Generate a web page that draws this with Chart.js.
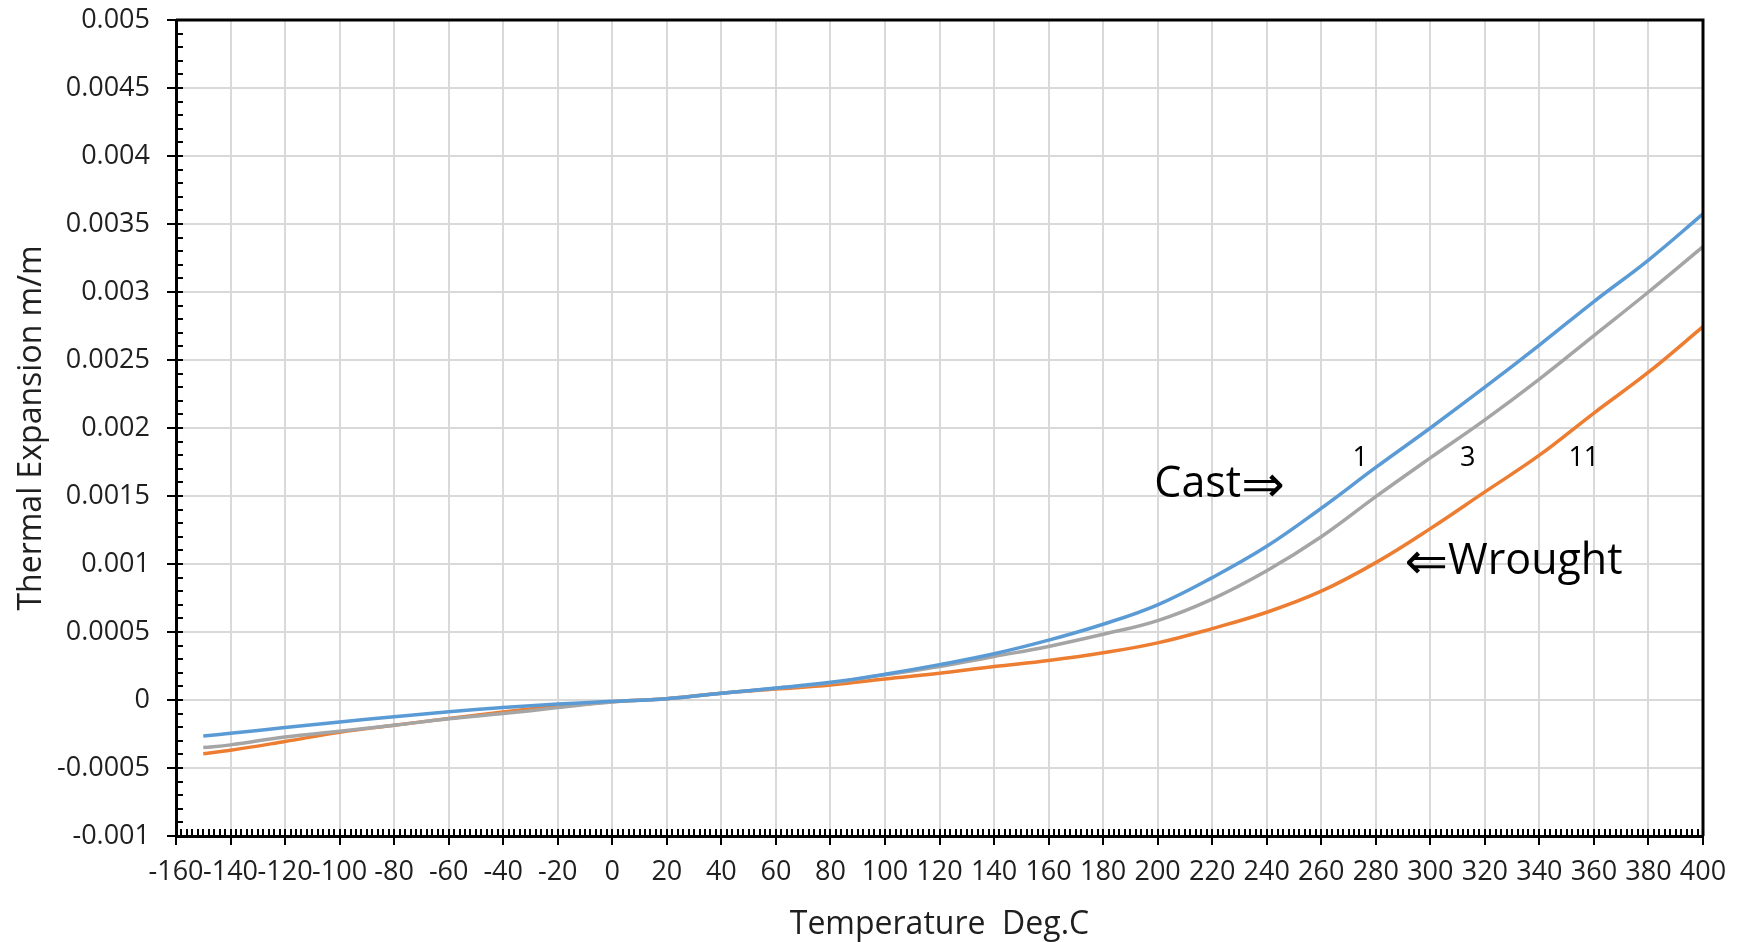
<!DOCTYPE html>
<html lang="en">
<head>
<meta charset="UTF-8">
<title>Thermal Expansion</title>
<script src="https://cdn.jsdelivr.net/npm/chart.js@4.4.1/dist/chart.umd.min.js"></script>
<style>
  html, body { margin: 0; padding: 0; background: #fff; }
</style>
</head>
<body>
<canvas id="expChart" width="1737" height="942"></canvas>
<script>
  // temperatures (deg C) and thermal expansion (m/m)
  const temps = [-150, -140, -120, -100, -80, -60, -40, -20, 0, 20, 40, 60, 80, 100, 120, 140,
                 160, 180, 200, 220, 240, 260, 280, 300, 320, 340, 360, 380, 400];
  const cast1 = [-0.000265, -0.000245, -0.000203, -0.000161, -0.000124, -0.000087, -0.000056, -0.00003,
                 -0.00001, 0.00001, 0.00005, 0.000088, 0.00013, 0.00019, 0.00026, 0.00034,
                 0.00044, 0.000557, 0.0007, 0.0009, 0.00113, 0.00141, 0.00171, 0.002, 0.0023,
                 0.00261, 0.00293, 0.003235, 0.003574];
  const cast3 = [-0.00035, -0.00033, -0.000272, -0.00023, -0.000186, -0.000138, -0.0001, -0.000056,
                 -0.000015, 0.00001, 0.00005, 0.000086, 0.000126, 0.000185, 0.000246, 0.00032,
                 0.000394, 0.000483, 0.000584, 0.000742, 0.00095, 0.0012, 0.001495, 0.00178, 0.00206,
                 0.00236, 0.00268, 0.003, 0.003333];
  const wrought11 = [-0.000395, -0.00037, -0.000305, -0.000237, -0.000186, -0.000136, -0.000088, -0.000046,
                     -0.000012, 0.00001, 0.00005, 0.00008, 0.00011, 0.000155, 0.000197, 0.000246,
                     0.00029, 0.000347, 0.00042, 0.000525, 0.000645, 0.0008, 0.00101, 0.00126, 0.00153,
                     0.0018, 0.00211, 0.00241, 0.002745];

  const xMin = -160, xMax = 400, xStep = 20, xMinor = 2;
  const yMin = -0.001, yMax = 0.005, yStep = 0.0005, yMinor = 0.0001;

  const textColor = '#1f1f1f';
  const fontFamily = "'Open Sans', 'DejaVu Sans', sans-serif";

  // text placed on the plot, in data units; arrow drawn a bit larger
  const notes = [
    { text: 'Cast', arrowAfter: '\u21D2', t: 198.8, v: 0.00158, size: 43 },
    { text: 'Wrought', arrowBefore: '\u21D0', t: 290.5, v: 0.001017, size: 43 },
    { text: '1', t: 274.3, v: 0.001775, size: 27, center: true },
    { text: '3', t: 313.7, v: 0.001775, size: 27, center: true },
    { text: '11', t: 356.3, v: 0.001775, size: 27, center: true }
  ];

  function points(vals) {
    return temps.map((t, i) => ({ x: t, y: vals[i] }));
  }

  const frameAndTicks = {
    id: 'frameAndTicks',
    afterDatasetsDraw(chart) {
      const { ctx, chartArea: a, scales: { x, y } } = chart;
      ctx.save();
      ctx.strokeStyle = '#000';
      ctx.lineWidth = 3;
      ctx.beginPath();
      ctx.moveTo(a.left, a.top);
      ctx.lineTo(a.right, a.top);
      ctx.lineTo(a.right, a.bottom);
      ctx.stroke();

      // minor ticks inside, major ticks crossing the axis
      ctx.lineWidth = 2;
      ctx.beginPath();
      const nx = Math.round((xMax - xMin) / xMinor);
      for (let k = 0; k <= nx; k++) {
        const px = Math.round(x.getPixelForValue(xMin + k * xMinor));
        const major = k % (xStep / xMinor) === 0;
        ctx.moveTo(px, a.bottom + (major ? 9 : 0));
        ctx.lineTo(px, a.bottom - 7);
      }
      const ny = Math.round((yMax - yMin) / yMinor);
      for (let k = 0; k <= ny; k++) {
        const py = Math.round(y.getPixelForValue(yMin + k * yMinor));
        const major = k % 5 === 0;
        ctx.moveTo(a.left - (major ? 9 : 0), py);
        ctx.lineTo(a.left + 7, py);
      }
      ctx.stroke();

      ctx.fillStyle = '#000';
      ctx.textBaseline = 'middle';
      notes.forEach(n => {
        const font = n.size + 'px ' + fontFamily;
        const arrowFont = Math.round(n.size * 1.2) + 'px ' + fontFamily;
        let px = x.getPixelForValue(n.t);
        const py = y.getPixelForValue(n.v);
        ctx.textAlign = n.center ? 'center' : 'left';
        if (n.arrowBefore) {
          ctx.font = arrowFont;
          ctx.fillText(n.arrowBefore, px, py + 2);
          px += ctx.measureText(n.arrowBefore).width;
        }
        ctx.font = font;
        ctx.fillText(n.text, px, py);
        if (n.arrowAfter) {
          px += ctx.measureText(n.text).width;
          ctx.font = arrowFont;
          ctx.fillText(n.arrowAfter, px, py + 2);
        }
      });
      ctx.restore();
    }
  };

  const tickFont = { family: fontFamily, size: 27 };
  const titleFont = { family: fontFamily, size: 32 };

  new Chart(document.getElementById('expChart'), {
    type: 'scatter',
    data: {
      datasets: [
        { label: '1', data: points(cast1), borderColor: '#5B9BD5' },
        { label: '3', data: points(cast3), borderColor: '#A5A5A5' },
        { label: '11', data: points(wrought11), borderColor: '#ED7D31' }
      ].map(d => Object.assign(d, {
        showLine: true, pointRadius: 0, borderWidth: 3.5, tension: 0.4
      }))
    },
    options: {
      responsive: false,
      animation: false,
      devicePixelRatio: 1,
      layout: { padding: { left: 0, top: 20, right: 34, bottom: 0 } },
      plugins: { legend: { display: false }, tooltip: { enabled: false } },
      scales: {
        x: {
          type: 'linear', min: xMin, max: xMax,
          afterFit(s) { s.height = 106; s.paddingLeft = 0; s.paddingRight = 0; },
          ticks: { stepSize: xStep, autoSkip: false, maxRotation: 0, padding: 20, color: textColor, font: tickFont },
          grid: { color: '#d9d9d9', lineWidth: 2, drawTicks: false },
          border: { color: '#000', width: 3 },
          title: { display: true, text: 'Temperature  Deg.C', color: textColor, font: titleFont, padding: { top: 0, bottom: -2 } }
        },
        y: {
          type: 'linear', min: yMin, max: yMax,
          afterFit(s) { s.width = 176; s.paddingTop = 0; s.paddingBottom = 0; },
          ticks: {
            stepSize: yStep, padding: 26, color: textColor, font: tickFont,
            callback: v => String(+v.toFixed(4))
          },
          grid: { color: '#d9d9d9', lineWidth: 2, drawTicks: false },
          border: { color: '#000', width: 3 },
          title: { display: true, text: 'Thermal Expansion m/m', color: textColor, font: titleFont, padding: { top: 13, bottom: 0 } }
        }
      }
    },
    plugins: [frameAndTicks]
  });
</script>
</body>
</html>
